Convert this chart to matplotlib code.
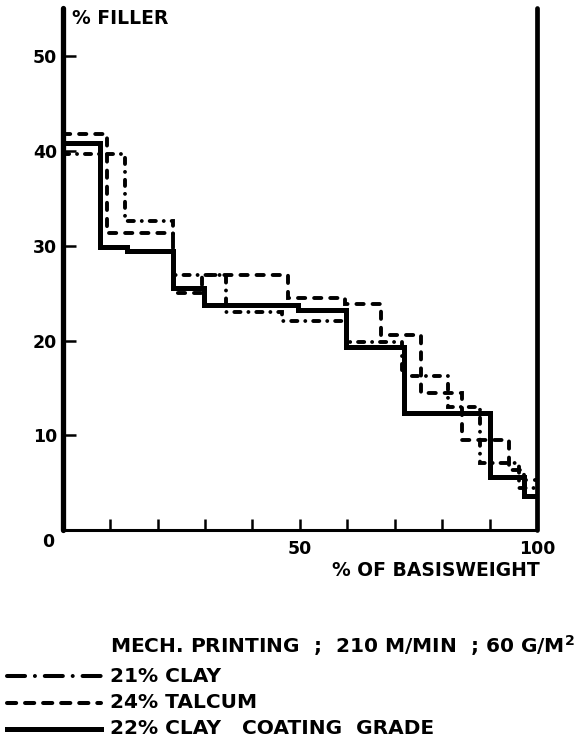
import numpy as np
import matplotlib.pyplot as plt
from matplotlib.lines import Line2D

# step edges (% of basisweight) and filler content (%)
clay_edges = [0, 13.2, 23.3, 34.4, 46.2, 59.8, 71.6, 81.3, 87.9, 96.1, 100]
clay_values = [39.7, 32.6, 26.9, 23.0, 22.1, 19.8, 16.3, 13.0, 7.1, 4.4]

talcum_edges = [0, 9.4, 23.3, 29.3, 47.5, 59.5, 67.2, 75.6, 84.1, 94.1, 97.2, 100]
talcum_values = [41.8, 31.4, 25.0, 26.9, 24.5, 23.9, 20.6, 14.5, 9.5, 6.3, 5.3]

coating_edges = [0, 7.9, 13.6, 23.2, 29.7, 49.6, 59.8, 72.0, 90.0, 97.2, 100]
coating_values = [40.8, 29.9, 29.5, 25.5, 23.7, 23.2, 19.3, 12.3, 5.6, 3.6]

series_labels = ['21% CLAY', '24% TALCUM', '22% CLAY   COATING  GRADE']
y_ticks = [10, 20, 30, 40, 50]
x_ticks = [10, 20, 30, 40, 50, 60, 70, 80, 90]

W, H = 587, 739
plt.rcParams['font.family'] = ['DejaVu Sans']
plt.rcParams['font.weight'] = 'bold'
plt.rcParams['lines.scale_dashes'] = False

fig = plt.figure(figsize=(W / 100, H / 100), dpi=100)


def fx(px):
    return px / W


def fy(py):
    return 1 - py / H


ax = fig.add_axes([fx(62.7), fy(530), (537 - 62.7) / W, (530 - 8) / H])
ax.set_xlim(0, 100)
ax.set_ylim(0, 55.1)

dashdot = (0, (4.4, 5.7, 0.01, 5.7))
dashed = (0, (5.2, 6.4))

ax.stairs(clay_values, clay_edges, color='black', lw=2.8, linestyle=dashdot,
          capstyle='round', baseline=None)
ax.stairs(talcum_values, talcum_edges, color='black', lw=2.8, linestyle=dashed,
          capstyle='round', baseline=None)
ax.stairs(coating_values, coating_edges, color='black', lw=3.6, linestyle='-',
          baseline=None)

ax.spines['top'].set_visible(False)
ax.spines['left'].set_linewidth(3.8)
ax.spines['right'].set_linewidth(3.4)
ax.spines['bottom'].set_linewidth(2.2)
for s in ax.spines.values():
    s.set_capstyle('round')

ax.set_yticks(y_ticks)
ax.set_yticklabels([str(t) for t in y_ticks])
ax.tick_params(axis='y', direction='in', length=9, width=1.8, pad=4, labelsize=12.5)
ax.set_xticks(x_ticks)
ax.set_xticklabels([''] * len(x_ticks))
ax.tick_params(axis='x', direction='in', length=8, width=1.8)

ax.text(-1.8, -0.3, '0', ha='right', va='top', fontsize=12.5)
ax.text(50, -1.1, '50', ha='center', va='top', fontsize=12.5)
ax.text(100, -1.1, '100', ha='center', va='top', fontsize=12.5)
ax.text(100.5, -3.3, '% OF BASISWEIGHT', ha='right', va='top', fontsize=13.5)
ax.text(2, 55, '% FILLER', ha='left', va='top', fontsize=13.5)

# legend block below the axes
text_x = 110
fig.text(fx(text_x), fy(646), r'MECH. PRINTING  ;  210 M/MIN  ; 60 G/M$^{\mathbf{2}}$',
         ha='left', va='center', fontsize=14.5)

styles = [((0, (13, 7.1, 0.01, 7.1)), 2.9), ((0, (6.6, 6.4)), 2.9), ('-', 3.6)]
rows = [676, 703, 729]
for label, (ls, lw), py in zip(series_labels, styles, rows):
    fig.add_artist(Line2D([fx(7), fx(101)], [fy(py), fy(py)], color='black', lw=lw,
                          linestyle=ls, dash_capstyle='round'))
    fig.text(fx(text_x), fy(py), label, ha='left', va='center', fontsize=14.5)

fig.savefig('out.png', dpi=100)
